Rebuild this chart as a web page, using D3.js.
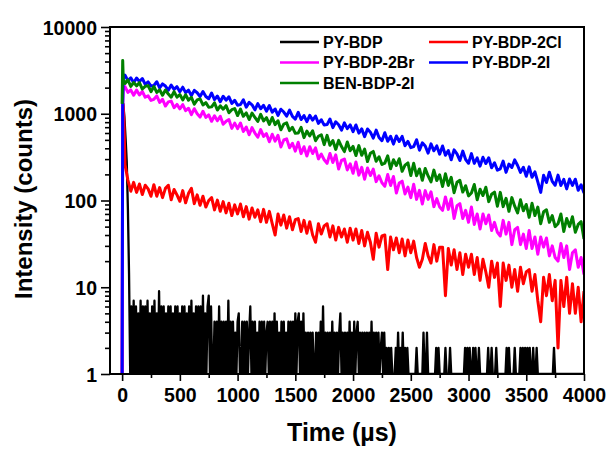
<!DOCTYPE html>
<html><head><meta charset="utf-8">
<script src="https://cdn.jsdelivr.net/npm/d3@7"></script>
<style>
body{margin:0;background:#fff;}
text{font-family:"Liberation Sans",Arial,sans-serif;font-weight:bold;fill:#000;}
</style>
</head><body>
<svg id="chart" width="607" height="449"></svg>
<script>
// ---------- data ----------
const seriesNames  = ["PY-BDP", "PY-BDP-2Cl", "PY-BDP-2Br", "PY-BDP-2I", "BEN-BDP-2I"];
const seriesColors = ["#000000", "#ff0000", "#ff00ff", "#0000ff", "#008000"];

const xTickValues  = [0, 500, 1000, 1500, 2000, 2500, 3000, 3500, 4000];
const xMinorTicks  = [250, 750, 1250, 1750, 2250, 2750, 3250, 3750];
const yTickValues  = [1, 10, 100, 1000, 10000];
const yTickLabels  = ["1", "10", "100", "1000", "10000"];

// rise at the excitation pulse (µs)
const earlyTime = [0, 5, 10, 15, 20];
const redEarly     = [0, 1300, 1200, 850, 480];
const magentaEarly = [0, 1100, 1990, 1960, 1940];
const blueEarly    = [0, 1350, 2650, 2680, 2630];
const greenEarly   = [1300, 4100, 2450, 2390, 2360];

// sampled decay, one value every 25 µs from 25 to 4000 µs
const gridTime = d3.range(25, 4001, 25);

const blueValues = [
 2790,2410,2595,2280,2585,2350,2550,2180,2325,2085,
 2115,2340,1985,2205,2085,1870,2140,1910,2050,1790,
 2025,1750,1870,1625,1860,1745,1580,1805,1580,1490,
 1735,1455,1600,1377,1591,1433,1566,1314,1431,1256,
 1275,1450,1193,1352,1266,1109,1308,1142,1252,1070,
 1243,1044,1135,955,1128,1046,937,1100,934,869,
 1036,858,954,812,957,845,942,774,852,740,
 750,869,692,808,748,648,785,673,743,622,
 743,598,669,544,668,613,524,647,533,489,
 605,482,550,447,554,479,548,428,480,407,
 418,502,380,462,425,352,450,374,426,342,
 425,332,376,295,383,345,289,371,297,269,
 347,268,310,249,315,267,311,238,272,224,
 232,285,211,263,240,294,253,211,242,190,
 244,185,214,164,124,195,161,212,166,150,
 196,149,175,136,177,149,176,131,152,122];

const greenValues = [
 2228,2458,2070,2293,2095,2285,1928,2072,2109,1794,
 2063,1759,1887,1633,1881,1688,1552,1801,1553,1664,
 1444,1658,1430,1547,1287,1442,1482,1263,1342,1187,
 1200,1336,1103,1234,1128,1242,1026,1114,1145,953,
 1129,934,1023,858,1020,906,815,985,826,902,
 755,906,750,831,653,760,784,639,698,595,
 599,696,531,630,556,636,489,550,572,441,
 563,433,491,388,493,419,366,472,375,420,
 330,429,332,391,281,351,368,283,319,260,
 270,327,232,295,253,303,217,256,271,194,
 269,193,231,171,234,192,164,224,170,198,
 145,203,149,185,123,162,171,125,148,113,
 122,153,102,135,114,142,97,118,125,86,
 124,85,106,75,108,86,72,102,76,90,
 64,93,67,84,54,74,78,56,67,50,
 54,70,44,62,50,65,43,53,57,36];

const magentaValues = [
 2056,1760,1883,1638,1879,1644,1805,1549,1606,1426,
 1466,1604,1349,1469,1227,1369,1399,1174,1280,1140,
 1275,1084,1158,977,1143,1000,915,1069,908,970,
 819,949,829,936,756,817,859,678,780,673,
 783,625,702,573,691,599,536,656,548,589,
 476,580,483,565,414,498,513,405,456,371,
 469,347,417,326,417,348,405,302,343,295,
 268,349,274,336,231,290,301,225,265,206,
 278,196,241,176,237,194,230,165,193,160,
 146,199,149,189,122,159,167,119,143,108,
 154,103,131,91,130,103,126,85,105,84,
 77,110,79,105,62,87,92,62,77,56,
 84,53,70,47,70,54,68,45,56,43,
 39,59,41,56,31,46,49,31,41,28,
 45,28,38,24,38,29,37,23,30,22,
 20,32,22,30,16,25,27,17,22,14];

const redValues = [
 260,172,128,162,124,155,117,150,136,112,
 152,112,141,108,138,150,102,134,116,98,
 130,94,121,138,92,116,88,112,84,100,
 108,78,101,75,97,72,93,67,89,70,
 91,65,85,61,82,64,78,57,79,56,
 75,54,40,70,52,68,48,65,46,60,
 62,44,59,42,57,40,33,54,41,51,
 54,38,51,35,49,38,47,33,48,35,
 47,32,45,30,43,33,21,42,29,39,
 40,16,38,27,37,25,36,23,35,25,
 34,22,17,21,32,23,19,31,20,29,
 29,8,28,18,27,16,25,14,24,17,
 24,14,22,12,21,15,10,20,13,19,
 6,19,12,18,10,16,9,17,11,15,
 16,9,14,7,4,13,8,14,7,12,
 2,12,6,13,5,11,5,10,4,9];

// PY-BDP: fast decay, then photon counts every 10 µs from 70 to 4000 µs
const blackEarlyTime   = [0, 5, 10, 20, 30, 40, 50, 60];
const blackEarlyValues = [0, 1250, 1300, 900, 520, 280, 80, 14];
const blackTime = d3.range(70, 4001, 10);
const blackCounts = [
 0,6,1,7,0,6,0,5,0,7,1,6,0,6,0,7,0,5,1,6,
 0,7,1,5,0,9,0,6,0,6,1,5,0,6,0,6,0,5,1,6,
 0,6,1,5,0,6,0,6,0,5,1,6,0,7,0,5,0,6,1,6,
 0,6,1,8,0,5,0,6,8,0,6,1,0,4,1,4,0,6,0,4,
 0,4,1,4,0,7,0,4,0,4,1,3,0,4,5,0,0,4,1,4,
 0,4,1,3,6,0,4,0,4,0,3,1,4,0,4,0,4,0,3,4,
 0,4,1,4,0,5,0,4,0,3,1,4,0,4,0,3,0,4,1,4,
 0,4,1,5,0,4,5,0,4,0,5,1,3,0,3,1,3,0,3,0,
 0,3,1,3,0,4,1,6,0,3,1,3,0,3,0,4,0,3,1,3,
 0,3,5,1,3,0,3,1,3,0,4,1,3,0,4,0,3,4,0,3,
 0,3,1,3,0,3,1,3,0,4,1,3,0,3,1,3,0,2,3,0,
 3,0,2,0,2,0,2,0,0,0,2,0,3,0,2,0,3,0,2,0,
 2,0,0,0,0,0,0,0,2,0,0,0,0,0,3,0,0,3,0,0,
 0,0,0,0,0,2,0,2,0,0,0,0,0,2,0,0,0,2,0,0,
 0,0,0,0,0,0,0,0,0,0,2,0,2,0,2,0,0,2,0,2,
 0,0,2,0,0,0,0,0,0,0,2,0,0,2,0,0,0,2,0,0,
 0,0,0,0,0,0,2,0,2,0,0,0,0,2,0,0,0,0,2,0,
 2,0,2,0,2,0,2,0,0,2,0,0,2,0,0,0,0,0,0,0,
 0,0,0,0,0,0,0,2,0,0,0,0,0,0,0,0,0,0,0,0,
 0,0,0,0,0,0,0,0,0,0,0,0,0,0];

// ---------- build series ----------
function zip(ts, vs){ return ts.map((t,i)=>({t:t, v:vs[i]})); }
const series = [
  zip(blackEarlyTime, blackEarlyValues).concat(zip(blackTime, blackCounts)),
  zip(earlyTime, redEarly).concat(zip(gridTime, redValues)),
  zip(earlyTime, magentaEarly).concat(zip(gridTime, magentaValues)),
  zip(earlyTime, blueEarly).concat(zip(gridTime, blueValues)),
  zip(earlyTime, greenEarly).concat(zip(gridTime, greenValues))
];

// ---------- layout ----------
const L = 110, R = 584, T = 27, B = 374;
const svg = d3.select("#chart");
const x = d3.scaleLinear().domain([-105, 4000]).range([L, R]);
const y = d3.scaleLog().domain([1, 10000]).range([B, T]).clamp(true);

svg.append("clipPath").attr("id","plotClip")
  .append("rect").attr("x",L).attr("y",T).attr("width",R-L).attr("height",B-T);

const line = d3.line().x(d=>x(d.t)).y(d=>y(Math.max(d.v,1)));
const plot = svg.append("g").attr("clip-path","url(#plotClip)");
series.forEach((s,i)=>{
  plot.append("path").datum(s)
    .attr("d", line)
    .attr("fill","none")
    .attr("stroke", seriesColors[i])
    .attr("stroke-width", i===0 ? 2.3 : 3)
    .attr("stroke-linejoin","round");
});

// ---------- axes ----------
const fs = "19.5px";
const xAxis = svg.append("g").attr("transform",`translate(0,${B})`)
  .call(d3.axisBottom(x).tickValues(xTickValues).tickSize(7).tickFormat(d3.format("d")));
const xMinor = svg.append("g").attr("transform",`translate(0,${B})`)
  .call(d3.axisBottom(x).tickValues(xMinorTicks).tickSize(4).tickFormat(""));
const yAxis = svg.append("g").attr("transform",`translate(${L},0)`)
  .call(d3.axisLeft(y).tickValues(yTickValues).tickSize(9)
        .tickFormat(d=>yTickLabels[yTickValues.indexOf(d)]));
const yMinorVals = [];
yTickValues.slice(0,-1).forEach(dec=>{ for(let k=2;k<=9;k++) yMinorVals.push(dec*k); });
const yMinor = svg.append("g").attr("transform",`translate(${L},0)`)
  .call(d3.axisLeft(y).tickValues(yMinorVals).tickSize(5).tickFormat(""));

[xAxis,xMinor,yAxis,yMinor].forEach(g=>{
  g.select(".domain").remove();
  g.selectAll("line").attr("stroke","#000").attr("stroke-width",1.6);
  g.selectAll("text").style("font-size",fs).style("font-family","'Liberation Sans',Arial,sans-serif")
    .style("font-weight","bold").attr("fill","#000");
});
xAxis.selectAll("text").attr("dy",null).attr("y",27.5);
yAxis.selectAll("text").attr("x",-13).attr("dy","0.36em");

// frame
svg.append("rect").attr("x",L).attr("y",T).attr("width",R-L).attr("height",B-T)
  .attr("fill","none").attr("stroke","#000").attr("stroke-width",2);

// axis titles
svg.append("text").attr("x",342).attr("y",441).attr("text-anchor","middle")
  .style("font-size","25px").text("Time (µs)");
svg.append("text").attr("transform","translate(32,199) rotate(-90)")
  .attr("text-anchor","middle").style("font-size","24px").text("Intensity (counts)");

// ---------- legend ----------
const legendPos = [[280,47.5],[429,47.5],[280,68],[429,68],[280,88.5]];
seriesNames.forEach((n,i)=>{
  const [lx,ly] = legendPos[i];
  svg.append("line").attr("x1",lx).attr("x2",lx+39).attr("y1",ly-5.5).attr("y2",ly-5.5)
    .attr("stroke",seriesColors[i]).attr("stroke-width",2.6);
  svg.append("text").attr("x",lx+43).attr("y",ly).style("font-size","16px").text(n);
});
</script>
</body></html>
